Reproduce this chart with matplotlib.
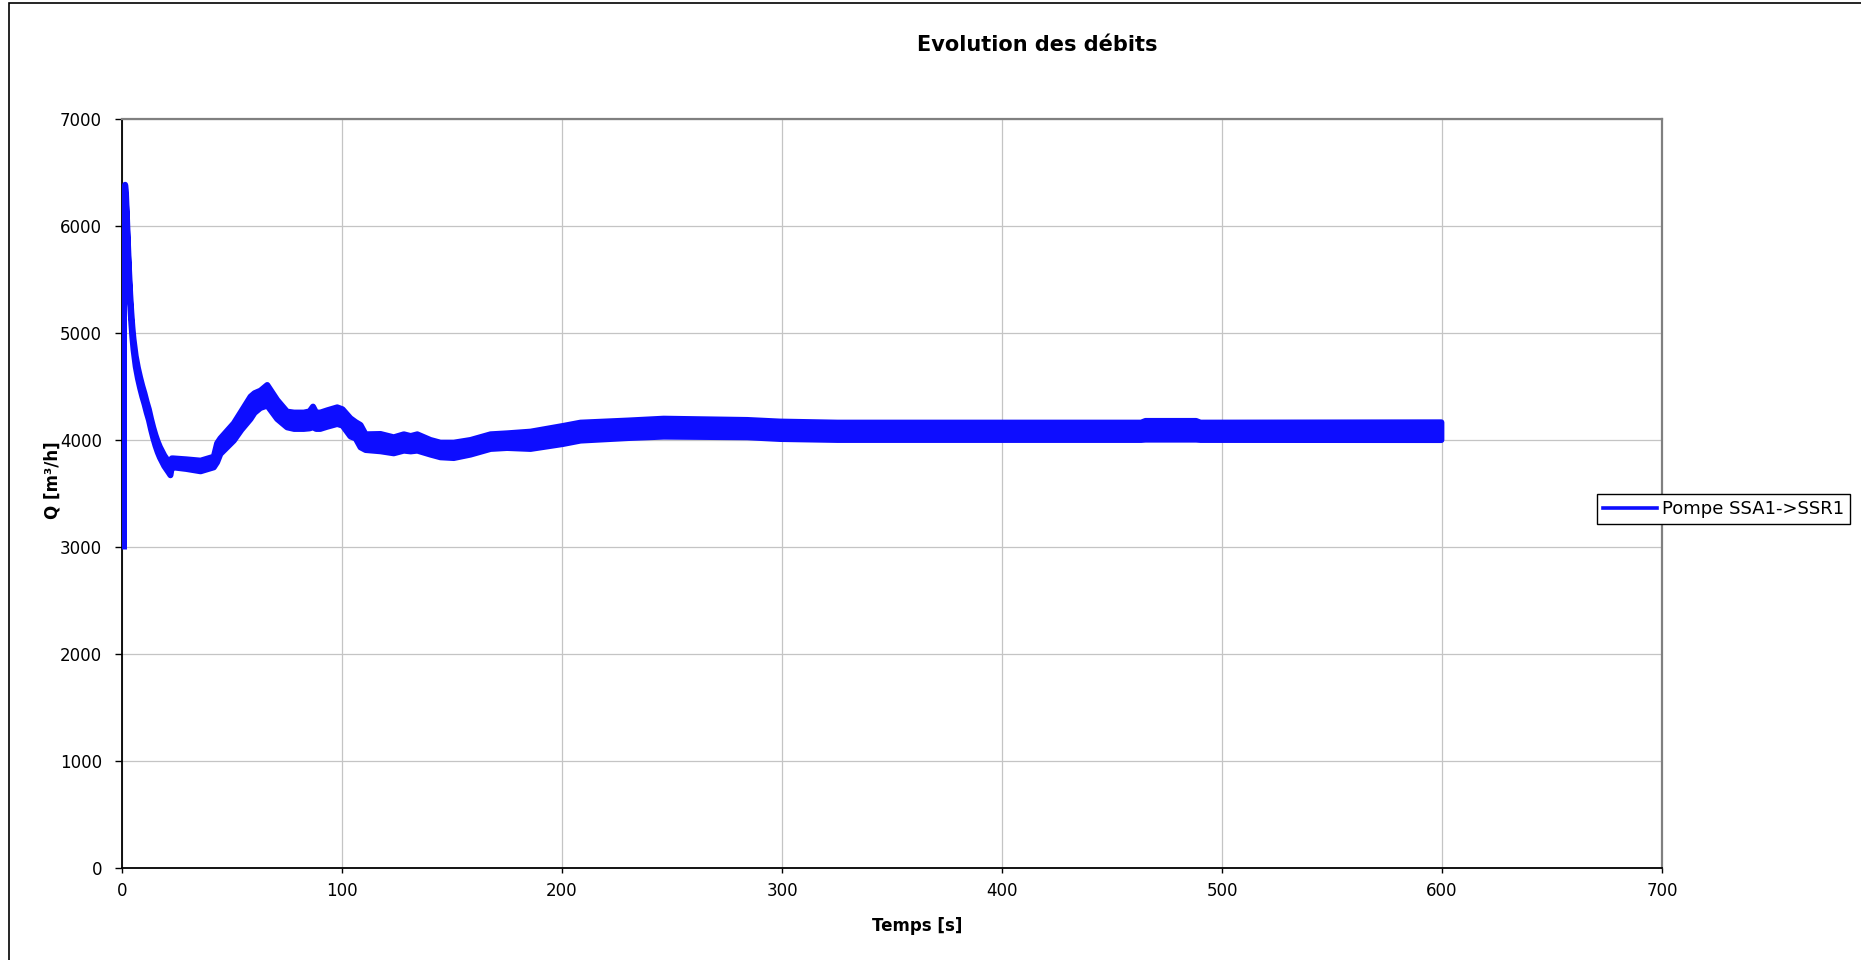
import matplotlib
matplotlib.use("Agg")
import matplotlib.pyplot as plt
from matplotlib.patches import Rectangle

plt.rcParams['font.family'] = ['DejaVu Sans']

# Pump flow: the signal oscillates quickly, so it is kept as an upper and
# lower envelope over time (s), in m3/h.
time_s = [1.2, 1.6, 2.0, 2.5, 3.0, 3.5, 4.0, 4.5, 5.0, 6.0, 7.0, 8.0, 9.0,
          10.0, 11.0, 12.0, 13.0, 14.0, 15.0, 16.0, 17.0, 18.0, 19.0, 20.0,
          21.0, 21.8, 22.4, 23.0, 29.0, 35.5, 41.5, 43.0, 44.5, 50.6, 54.0,
          58.2, 60.0, 62.7, 65.8, 70.3, 74.8, 78.0, 82.4, 85.0, 86.6, 88.0,
          89.9, 93.0, 97.6, 100.0, 103.6, 106.0, 108.2, 110.5, 117.3, 123.3,
          127.9, 131.0, 134.0, 140.0, 144.5, 150.6, 158.2, 167.3, 174.8,
          185.5, 200.2, 208.2, 230.0, 246.0, 284.0, 299.0, 325.0, 463.0,
          465.0, 488.0, 490.0, 599.5]
q_upper = [6390, 6300, 6100, 5830, 5580, 5370, 5200, 5060, 4950, 4790, 4680,
           4590, 4510, 4440, 4360, 4290, 4200, 4120, 4050, 3990, 3940, 3900,
           3860, 3830, 3800, 3775, 3833, 3833, 3824, 3812, 3849, 3974, 4020,
           4161, 4272, 4410, 4442, 4466, 4519, 4379, 4270, 4261, 4261, 4272,
           4317, 4262, 4261, 4282, 4310, 4292, 4208, 4172, 4145, 4058, 4061,
           4030, 4058, 4042, 4058, 4005, 3980, 3980, 4005, 4058, 4067, 4083,
           4136, 4167, 4187, 4204, 4192, 4177, 4167, 4167, 4183, 4183, 4167,
           4170]
q_lower = [6300, 6200, 6000, 5730, 5480, 5270, 5100, 4960, 4850, 4690, 4580,
           4490, 4410, 4340, 4260, 4190, 4100, 4020, 3950, 3890, 3840, 3800,
           3760, 3730, 3700, 3675, 3749, 3749, 3734, 3712, 3749, 3796, 3874,
           3999, 4098, 4201, 4258, 4304, 4326, 4201, 4123, 4108, 4108, 4113,
           4123, 4108, 4108, 4128, 4154, 4139, 4038, 4018, 3936, 3911, 3899,
           3880, 3905, 3898, 3905, 3868, 3843, 3836, 3868, 3921, 3930, 3921,
           3967, 3999, 4023, 4036, 4030, 4014, 4005, 4005, 4008, 4008, 4005,
           4004]

# Start-up jump of the pump (m3/h)
jump_time = [1.0, 1.0]
jump_q = [2980, 6390]

x_ticks = [0, 100, 200, 300, 400, 500, 600, 700]
y_ticks = [0, 1000, 2000, 3000, 4000, 5000, 6000, 7000]
series_label = "Pompe SSA1->SSR1"
flow_color = "#0d0dff"

W, H = 1861, 960
fig = plt.figure(figsize=(W / 100, H / 100), dpi=100)
ax = fig.add_axes([122 / W, 92 / H, 1540 / W, 749 / H])

band = ax.fill_between(time_s, q_lower, q_upper, facecolor=flow_color,
                       edgecolor=flow_color, linewidth=4.3, zorder=3)
band.set_joinstyle("round")
ax.plot(jump_time, jump_q, color=flow_color, linewidth=3.6,
        solid_capstyle="butt", zorder=3)

ax.set_xlim(x_ticks[0], x_ticks[-1])
ax.set_ylim(y_ticks[0], y_ticks[-1])
ax.set_xticks(x_ticks)
ax.set_yticks(y_ticks)
ax.grid(True, color="#c4c4c4", linewidth=0.9)
ax.set_axisbelow(True)

for side in ("left", "bottom"):
    ax.spines[side].set_color("black")
    ax.spines[side].set_linewidth(1.3)
for side in ("top", "right"):
    ax.spines[side].set_color("#808080")
    ax.spines[side].set_linewidth(1.6)

ax.tick_params(axis="y", direction="out", length=5, width=1.0,
               labelsize=12, pad=9.4, colors="black")
ax.tick_params(axis="x", direction="out", length=3.6, width=1.0,
               labelsize=12, pad=6.5, colors="black")

fig.text(1037 / W, 1 - 45 / H, "Evolution des débits", ha="center",
         va="center", fontsize=15, fontweight="bold")
fig.text(917 / W, 1 - 926 / H, "Temps [s]", ha="center", va="center",
         fontsize=12, fontweight="bold")
fig.text(52 / W, 1 - 480 / H, "Q [m³/h]", ha="center", va="center",
         rotation=90, fontsize=12, fontweight="bold")

leg = ax.legend([plt.Line2D([], [], color=flow_color, linewidth=2.6)],
                [series_label], loc="center left",
                bbox_to_anchor=(1597 / W, 1 - 509 / H),
                bbox_transform=fig.transFigure, fontsize=13,
                frameon=True, fancybox=False, framealpha=1,
                edgecolor="black", borderpad=0.32, handlelength=3.0,
                handletextpad=0.3, borderaxespad=0)
leg.get_frame().set_linewidth(1.0)

# Chart-area border
fig.patches.append(Rectangle((9 / W, -0.01), 1.0, 1.01 - 3 / H,
                             transform=fig.transFigure, fill=False,
                             edgecolor="black", linewidth=1.2))

fig.savefig("out.png", dpi=100, facecolor="white")
